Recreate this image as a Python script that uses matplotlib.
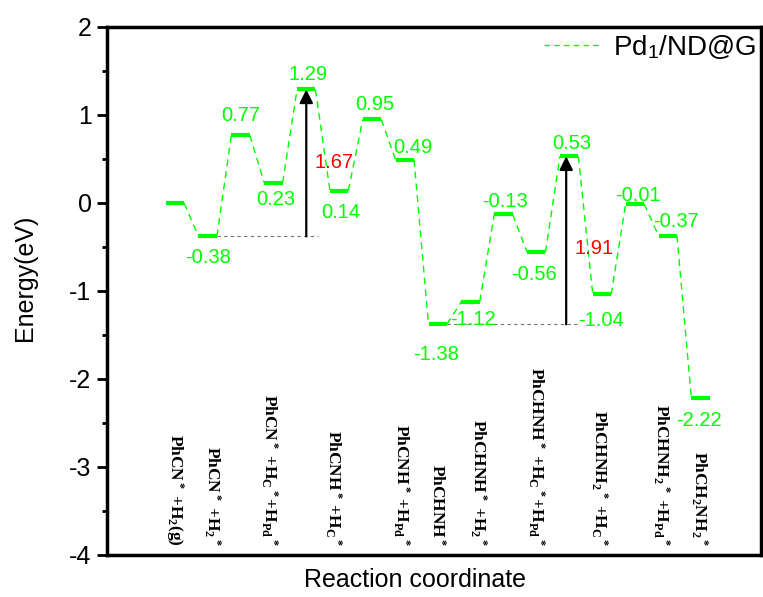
import numpy as np
import matplotlib
matplotlib.use("Agg")
import matplotlib.pyplot as plt
from matplotlib.ticker import MultipleLocator
from matplotlib.lines import Line2D


# ============================================================
# Data
# ============================================================

energies = [0.00, -0.38, 0.77, 0.23, 1.29, 0.14, 0.95, 0.49, -1.38,
            -1.12, -0.13, -0.56, 0.53, -1.04, -0.01, -0.37, -2.22]
value_labels = [None, "-0.38", "0.77", "0.23", "1.29", "0.14", "0.95", "0.49", "-1.38",
                "-1.12", "-0.13", "-0.56", "0.53", "-1.04", "-0.01", "-0.37", "-2.22"]

# species names sit under the stable intermediates (1-based step index)
name_steps = [1, 2, 4, 6, 8, 9, 10, 12, 14, 16, 17]
names = [
    r"PhCN$^*$ +H$_2$(g)",
    r"PhCN$^*$ +H$_2$$^*$",
    r"PhCN$^*$ +H$_C$$^*$+H$_{Pd}$$^*$",
    r"PhCNH$^*$ +H$_C$$^*$",
    r"PhCNH$^*$ +H$_{Pd}$$^*$",
    r"PhCHNH$^*$",
    r"PhCHNH$^*$ +H$_2$$^*$",
    r"PhCHNH$^*$ +H$_C$$^*$+H$_{Pd}$$^*$",
    r"PhCHNH$_2$$^*$ +H$_C$$^*$",
    r"PhCHNH$_2$$^*$ +H$_{Pd}$$^*$",
    r"PhCH$_2$NH$_2$$^*$",
]

# energy barriers: (from step, to step, text)
barriers = [(2, 5, "1.67"), (9, 13, "1.91")]

series_name = r"Pd$_\mathsf{1}$/ND@G"


# ============================================================
# Style
# ============================================================

plt.rcParams.update({
    "font.family": "Liberation Sans",
    "axes.unicode_minus": False,
    "mathtext.fontset": "custom",
    "mathtext.rm": "Liberation Serif:bold",
    "mathtext.it": "Liberation Serif:bold",
    "mathtext.bf": "Liberation Serif:bold",
    "mathtext.sf": "Liberation Sans",
})

green = "#00ff00"
half_w = 0.28
px = 1 / 32.875  # one pixel in x data units

# label offsets in points (dx, dy), above > 0, below < 0
label_off = [(0, 0), (0, -15), (0, 14), (2, -12), (1, 11), (1, -16), (2, 11), (6, 9), (-1, -22),
             (2, -13), (1, 9), (-2, -16), (2, 9), (-1, -19), (2, 6), (6, 10), (-1, -16)]
arrow_dx = [0.0, -0.09]
barrier_dy = [0, -6]
name_dx = [0, 4, -4, -6, -3.5, 0, 7.5, 0, -2.5, -6.5, -1]

x = np.arange(1, len(energies) + 1)
e = np.array(energies)

fig = plt.figure(figsize=(7.63, 5.97), dpi=100)
ax = fig.add_axes([0.140, 0.0704, 0.857, 0.8844])

# dashed connectors between levels
for i in range(len(e) - 1):
    ax.plot([x[i] + half_w, x[i + 1] - half_w], [e[i], e[i + 1]],
            color=green, lw=1.0, ls=(0, (5, 3.5)), zorder=2)

# energy levels
ax.hlines(e, x - half_w, x + half_w, color=green, lw=3.0, zorder=3)

# value labels
for xi, ei, lab, (dx, dy) in zip(x, e, value_labels, label_off):
    if lab is None:
        continue
    ax.annotate(lab, (xi, ei), xytext=(dx, dy), textcoords="offset points",
                ha="center", va="center", color=green, fontsize=14.5)

# barriers
for (s0, s1, txt), adx, bdy in zip(barriers, arrow_dx, barrier_dy):
    xa = x[s1 - 1] + adx
    e0, e1 = e[s0 - 1], e[s1 - 1]
    ax.plot([x[s0 - 1] + half_w, xa + 0.35], [e0, e0], color="0.45",
            lw=0.8, ls=(0, (3, 3)), zorder=1)
    ax.annotate("", xy=(xa, e1), xytext=(xa, e0),
                arrowprops=dict(arrowstyle="-|>", color="black", lw=1.6,
                                mutation_scale=20, shrinkA=0, shrinkB=0),
                zorder=4)
    ax.annotate(txt, (xa, (e0 + e1) / 2), xytext=(20, bdy), textcoords="offset points",
                ha="center", va="center", color="red", fontsize=14.5)

# species names
for s, nm, ndx in zip(name_steps, names, name_dx):
    ax.text(x[s - 1] + ndx * px, -3.9, nm, rotation=-90, ha="center", va="bottom",
            fontsize=12.5, family="Liberation Serif", weight="bold")

# axes
ax.set_xlim(-1.07, 18.83)
ax.set_ylim(-4, 2)
ax.set_xticks([])
ax.set_yticks(range(-4, 3))
ax.yaxis.set_minor_locator(MultipleLocator(0.5))
ax.tick_params(axis="y", which="major", direction="out", length=7, width=2,
               labelsize=18, pad=4)
ax.tick_params(axis="y", which="minor", direction="out", length=3.5, width=2)
for sp in ax.spines.values():
    sp.set_linewidth(2.5)

ax.set_ylabel("Energy(eV)", fontsize=18)
ax.yaxis.set_label_coords(-0.107, 0.525)
ax.set_xlabel("Reaction coordinate", fontsize=18)
ax.xaxis.set_label_coords(0.471, -0.024)

handle = Line2D([], [], color=green, lw=1.0, ls=(0, (4, 3)))
ax.legend([handle], [series_name], loc="upper right", bbox_to_anchor=(1.01, 1.01),
          frameon=False, fontsize=20, handlelength=2.0, borderaxespad=0.0,
          handletextpad=0.5)

fig.savefig("out.png", dpi=100)
